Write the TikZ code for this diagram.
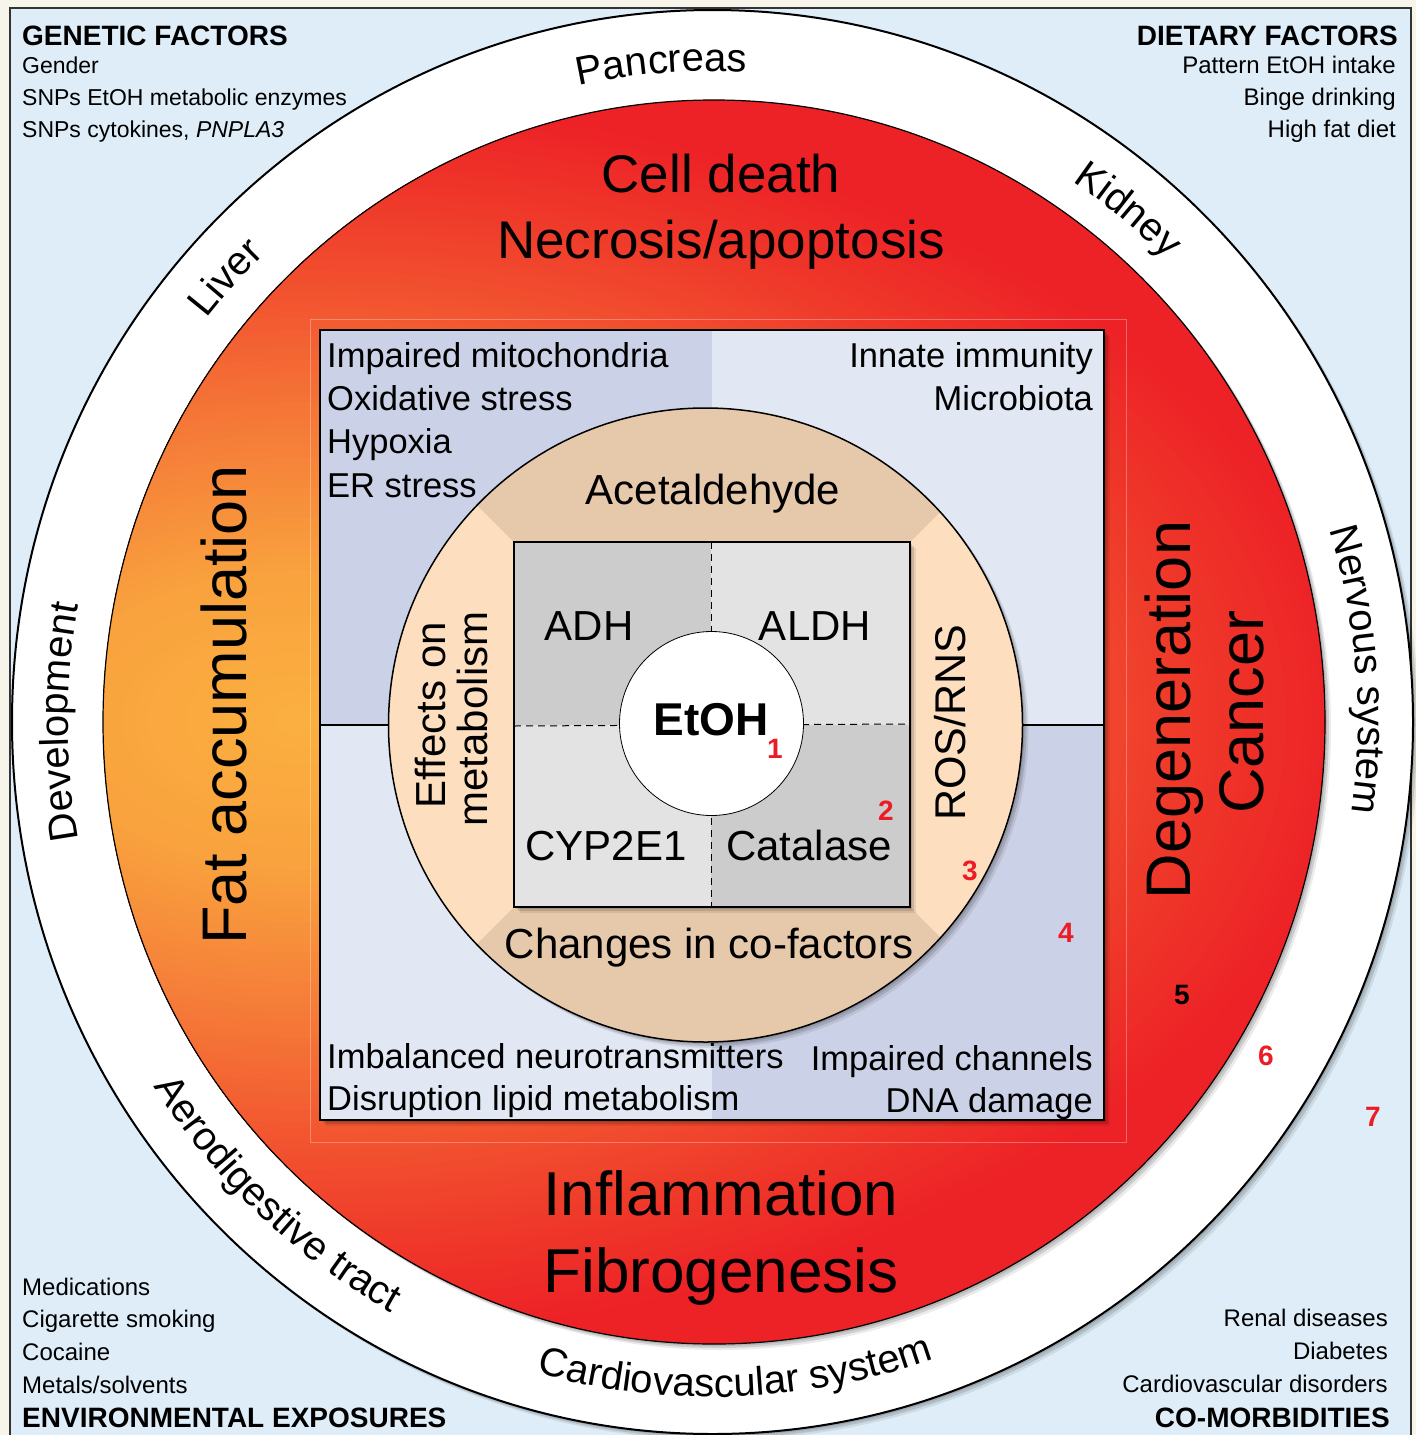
\documentclass[tikz,border=0pt]{standalone}
\usepackage{fontspec}
\setmainfont{Liberation Sans}
\usetikzlibrary{shadows,decorations.text}
\definecolor{creamc}{HTML}{F7F4EA}
\definecolor{bluebg}{HTML}{DEEDF8}
\definecolor{gA}{HTML}{FBB040}
\definecolor{gB}{HTML}{F9A23E}
\definecolor{gC}{HTML}{F57A38}
\definecolor{gD}{HTML}{F25530}
\definecolor{gE}{HTML}{EF3A2A}
\definecolor{gF}{HTML}{ED2226}
\definecolor{qdark}{HTML}{CBD1E6}
\definecolor{qlight}{HTML}{E1E7F3}
\definecolor{peachL}{HTML}{FDDFC0}
\definecolor{peachD}{HTML}{E6C8AA}
\definecolor{grayD}{HTML}{CCCCCC}
\definecolor{grayL}{HTML}{E3E3E3}
\definecolor{numred}{HTML}{ED1C24}
\newcommand\fsz[1]{\fontsize{#1}{#1}\selectfont}
\newcommand\ringf{\fontsize{40}{40}\selectfont}
\newcommand\gradseg[4]{%
  \foreach \k in {0,...,19}{%
    \pgfmathsetmacro\grR{#1-(#1-#2)*\k/20}%
    \pgfmathtruncatemacro\grP{5*\k}%
    \fill[#4!\grP!#3] (300,-720) ellipse [x radius={1.7*\grR}, y radius={\grR}];%
  }}
\begin{document}
\begin{tikzpicture}[x=1pt,y=1pt,
  shad/.style={drop shadow={shadow xshift=2pt,shadow yshift=-2pt,opacity=0.12,fill=black},
               drop shadow={shadow xshift=4pt,shadow yshift=-4pt,opacity=0.12,fill=black},
               drop shadow={shadow xshift=6pt,shadow yshift=-6pt,opacity=0.08,fill=black}},
  hdr/.style={font=\fsz{28}\bfseries, inner sep=0},
  fac/.style={font=\fsz{23}, inner sep=0},
  facb/.style={font=\fsz{24}, inner sep=0},
  sq/.style={font=\fsz{34.5}, inner sep=0},
  big/.style={font=\fsz{53}, inner sep=0},
  huge/.style={font=\fsz{62}, inner sep=0},
  side/.style={font=\fsz{63}, inner sep=0, rotate=90},
  mid/.style={font=\fsz{42}, inner sep=0},
  num/.style={font=\fsz{28}\bfseries, text=numred, inner sep=0},
  ringtop/.style={decorate, decoration={text along path, text align=center, text={|\ringf|#1}}},
  dashln/.style={dash pattern=on 7pt off 5pt, line width=1},
]
\useasboundingbox (0,0) rectangle (1416,-1435);
% background and frame
\fill[creamc] (0,0) rectangle (1416,-1435);
\fill[bluebg] (10,-8) rectangle (1411,-1445);
\draw[line width=1.5, black!80] (10,-1445) -- (10,-8) -- (1411,-8) -- (1411,-1445);
% outer white ring
\path[fill=white, shad] (712.5,-722) ellipse [x radius=700.5, y radius=712];
\draw[line width=2] (712.5,-722) ellipse [x radius=700.5, y radius=712];
% red disc with gradient
\path[fill=gF, shad] (714,-722) ellipse [x radius=611, y radius=622];
\begin{scope}
  \clip (714,-722) ellipse [x radius=611, y radius=622];
  \gradseg{620}{520}{gF}{gE}
  \gradseg{520}{420}{gE}{gD}
  \gradseg{420}{300}{gD}{gC}
  \gradseg{300}{150}{gC}{gB}
  \gradseg{150}{0}{gB}{gA}
\end{scope}
\draw[line width=1.2] (714,-722) ellipse [x radius=611, y radius=622];
% faint frame round the square
\draw[white, opacity=0.3, line width=0.8] (310,-319) rectangle (1126,-1142);
% big square
\path[fill=qdark, shad] (320,-330) rectangle (1104,-1120);
\fill[qlight] (712,-330) rectangle (1104,-725);
\fill[qlight] (320,-725) rectangle (712,-1120);
\draw[line width=1.5] (320,-330) rectangle (1104,-1120);
\draw[line width=1.2] (320,-725) -- (400,-725);
\draw[line width=1.2] (1010,-725) -- (1104,-725);
% peach disc
\path[fill=peachL, shad] (705.5,-725) circle (317);
\begin{scope}
  \clip (705.5,-725) circle (317);
  \fill[peachD] (514,-542) -- (314,-342) -- (1110,-342) -- (910,-542) -- cycle;
  \fill[peachD] (514,-907) -- (314,-1107) -- (1110,-1107) -- (910,-907) -- cycle;
\end{scope}
\draw[line width=1.5] (705.5,-725) circle (317);
% gray square
\path[fill=grayD, shad] (514,-542) rectangle (910,-907);
\fill[grayL] (711,-542) rectangle (910,-725);
\fill[grayL] (514,-725) rectangle (711,-907);
\draw[dashln] (711,-542) -- (711,-907);
\draw[dashln] (514,-726) -- (910,-724);
\draw[line width=1.5] (514,-542) rectangle (910,-907);
% EtOH circle
\draw[fill=white, line width=0.8] (711.5,-723.5) circle (92);

% corner texts
\node[hdr, anchor=base west] (genh) at (22,-45) {GENETIC FACTORS};
\node[fac, anchor=base west] (gen1) at (22,-73) {Gender};
\node[fac, anchor=base west] (gen2) at (22,-105) {SNPs EtOH metabolic enzymes};
\node[fac, anchor=base west] (gen3) at (22,-137) {SNPs cytokines, \textit{PNPLA3}};
\node[hdr, anchor=base east] (dieh) at (1398,-45) {DIETARY FACTORS};
\node[facb, anchor=base east] (die1) at (1396,-73) {Pattern EtOH intake};
\node[facb, anchor=base east] (die2) at (1396,-105) {Binge drinking};
\node[facb, anchor=base east] (die3) at (1396,-137) {High fat diet};
\node[facb, anchor=base west] (env1) at (22,-1295) {Medications};
\node[facb, anchor=base west] (env2) at (22,-1327) {Cigarette smoking};
\node[facb, anchor=base west] (env3) at (22,-1360) {Cocaine};
\node[facb, anchor=base west] (env4) at (22,-1393) {Metals/solvents};
\node[hdr, anchor=base west] (envh) at (22,-1427) {ENVIRONMENTAL EXPOSURES};
\node[facb, anchor=base east] (com1) at (1388,-1326) {Renal diseases};
\node[facb, anchor=base east] (com2) at (1388,-1359) {Diabetes};
\node[facb, anchor=base east] (com3) at (1388,-1392) {Cardiovascular disorders};
\node[hdr, anchor=base east] (comh) at (1390,-1427) {CO-MORBIDITIES};

% ring labels
\begin{scope}[shift={(713,-722)}]
  \path[ringtop=Pancreas] (124.5:645 and 651) arc[start angle=124.5, end angle=64.5, x radius=645, y radius=651];
  \path[ringtop=Kidney] (80.8:645 and 651) arc[start angle=80.8, end angle=20.8, x radius=645, y radius=651];
  \path[ringtop=Liver] (167.8:645 and 651) arc[start angle=167.8, end angle=107.8, x radius=645, y radius=651];
  \path[ringtop=Nervous system] (34.6:645 and 651) arc[start angle=34.6, end angle=-25.4, x radius=645, y radius=651];
  \path[ringtop=Development] (210:645 and 651) arc[start angle=210, end angle=150, x radius=645, y radius=651];
  \path[ringtop=Aerodigestive tract] (187:664 and 675) arc[start angle=187, end angle=267, x radius=664, y radius=675];
  \path[ringtop=Cardiovascular system] (232:664 and 675) arc[start angle=232, end angle=312, x radius=664, y radius=675];
\end{scope}

% red disc texts
\node[big, anchor=base] (cd1) at (721,-192) {Cell death};
\node[big, anchor=base] (cd2) at (721,-258) {Necrosis/apoptosis};
\node[huge, anchor=base] (inf1) at (721,-1215) {Inflammation};
\node[huge, anchor=base] (inf2) at (721,-1292) {Fibrogenesis};
\node[side, anchor=base] (fat) at (246,-705) {Fat accumulation};
\node[side, anchor=base] (deg) at (1190,-710) {Degeneration};
\node[side, anchor=base] (can) at (1263,-712) {Cancer};

% square texts
\node[sq, anchor=base west] (s1) at (327,-367) {Impaired mitochondria};
\node[sq, anchor=base west] (s2) at (327,-410) {Oxidative stress};
\node[sq, anchor=base west] (s3) at (327,-453) {Hypoxia};
\node[sq, anchor=base west] (s4) at (327,-497) {ER stress};
\node[sq, anchor=base east] (s5) at (1093,-367) {Innate immunity};
\node[sq, anchor=base east] (s6) at (1093,-410) {Microbiota};
\node[sq, anchor=base west] (s7) at (327,-1068) {Imbalanced neurotransmitters};
\node[sq, anchor=base west] (s8) at (327,-1110) {Disruption lipid metabolism};
\node[sq, anchor=base east] (s9) at (1093,-1070) {Impaired channels};
\node[sq, anchor=base east] (s10) at (1093,-1112) {DNA damage};

% peach disc texts
\node[mid, anchor=base] (ace) at (713,-504) {Acetaldehyde};
\node[mid, anchor=base] (cof) at (709,-958) {Changes in co-factors};
\node[mid, anchor=base, rotate=90] (eff1) at (445,-715) {Effects on};
\node[mid, anchor=base, rotate=90] (eff2) at (487,-719) {metabolism};
\node[mid, anchor=base, rotate=90, font=\fsz{43}] (ros) at (965,-723) {ROS/RNS};

% gray square texts
\node[mid, anchor=base] (adh) at (589,-640) {ADH};
\node[mid, anchor=base] (aldh) at (815,-640) {ALDH};
\node[mid, anchor=base] (cyp) at (606,-860) {CYP2E1};
\node[mid, anchor=base] (cat) at (809,-860) {Catalase};
\node[font=\fsz{46}\bfseries, inner sep=0, anchor=base] (etoh) at (711,-735) {EtOH};

% numbers
\node[num] (n1) at (775,-749) {1};
\node[num] (n2) at (886,-811) {2};
\node[num] (n3) at (970,-871) {3};
\node[num] (n4) at (1066,-933) {4};
\node[num, text=black] (n5) at (1182,-995) {5};
\node[num] (n6) at (1266,-1056) {6};
\node[num] (n7) at (1373,-1117) {7};
\end{tikzpicture}
\end{document}
